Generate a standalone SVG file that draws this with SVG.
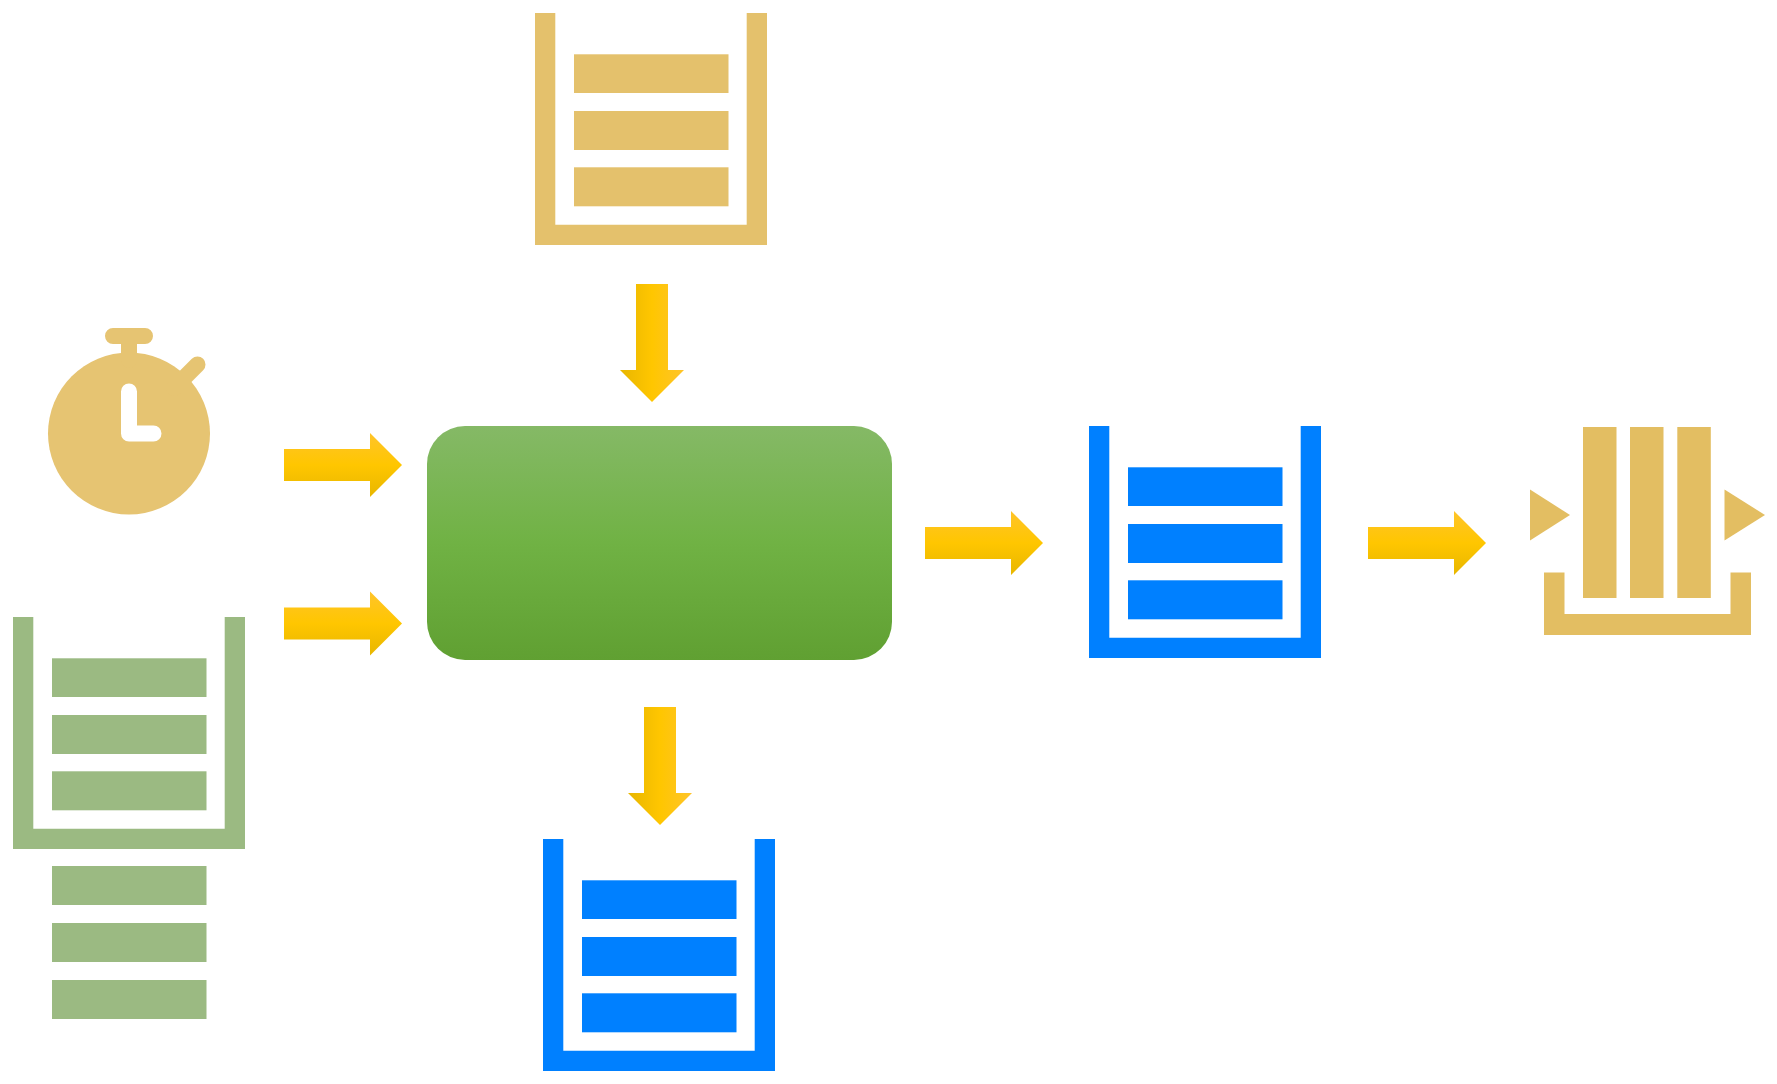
<svg xmlns="http://www.w3.org/2000/svg" width="1777" height="1084" viewBox="0 0 1777 1084">
<style>
.sand{fill:#e4c16c}.moss{fill:#9bba82}.blue{fill:#0080ff}.wall{fill:#e3be62}
.ah{fill:url(#ahG)}.av{fill:url(#avG)}
</style>
<defs>
<linearGradient id="ahG" x1="0" y1="0" x2="0" y2="1"><stop offset="0" stop-color="#ffc42a"/><stop offset=".5" stop-color="#ffc600"/><stop offset="1" stop-color="#e8b600"/></linearGradient>
<linearGradient id="avG" x1="1" y1="0" x2="0" y2="0"><stop offset="0" stop-color="#ffc42a"/><stop offset=".5" stop-color="#ffc600"/><stop offset="1" stop-color="#e8b600"/></linearGradient>
<linearGradient id="boxG" x1="0" y1="0" x2="0" y2="1"><stop offset="0" stop-color="#85b966"/><stop offset=".5" stop-color="#70b244"/><stop offset="1" stop-color="#60a032"/></linearGradient>
<path id="q" d="M0 0H20.300V211.700H191.700V0H232V232H0Z"/>
<path id="q2" d="M0 0H20.300V211.700H211.700V0H232V232H0Z"/>
<g id="bars"><rect x="39" y="41.300" width="154.500" height="38.700"/><rect x="39" y="98" width="154.500" height="39"/><rect x="39" y="154.300" width="154.500" height="39"/></g>
<path id="ar" d="M0 16H86V0L118 32 86 64V48H0Z"/>
<path id="ad" d="M16 0H48V86H64L32 118 0 86H16Z"/>
</defs>
<g id="connectors">
<use href="#ar" class="ah" x="284" y="433"/>
<use href="#ar" class="ah" x="284" y="591.500"/>
<use href="#ar" class="ah" x="925" y="511"/>
<use href="#ar" class="ah" x="1368" y="511"/>
<use href="#ad" class="av" x="620" y="284"/>
<use href="#ad" class="av" x="628" y="707"/>
</g>
<g id="timer" fill="#e6c472">
<circle cx="129" cy="433.500" r="81"/>
<path d="M113 336H145M129 336V360M174 388L197.500 364.500" fill="none" stroke="#e6c472" stroke-width="16" stroke-linecap="round"/>
<path d="M129 391.500V433.500H153.500" fill="none" stroke="#fff" stroke-width="16" stroke-linecap="round" stroke-linejoin="round"/>
</g>
<g id="queue-top" class="sand" transform="translate(535 13)"><use href="#q2"/><use href="#bars"/></g>
<g id="queue-left" class="moss" transform="translate(13 617)"><use href="#q2"/><use href="#bars"/><rect x="39" y="249" width="154.500" height="39"/><rect x="39" y="306" width="154.500" height="39"/><rect x="39" y="363" width="154.500" height="39"/></g>
<g id="queue-right" class="blue" transform="translate(1089 426)"><use href="#q2"/><use href="#bars"/></g>
<g id="queue-bottom" class="blue" transform="translate(543 839)"><use href="#q2"/><use href="#bars"/></g>
<g id="processor"><rect x="427" y="426" width="465" height="234" rx="38" fill="url(#boxG)"/></g>
<g id="stream" class="wall">
<rect x="1583" y="427" width="33.500" height="171"/><rect x="1630" y="427" width="33.500" height="171"/><rect x="1677.300" y="427" width="33.500" height="171"/>
<path d="M1530 489.500L1570 515 1530 540.500Z"/><path d="M1724.500 489.500L1765 515 1724.500 540.500Z"/>
<path d="M1544 572.500H1564.500V614H1730.500V572.500H1751V635H1544Z"/>
</g>
</svg>
